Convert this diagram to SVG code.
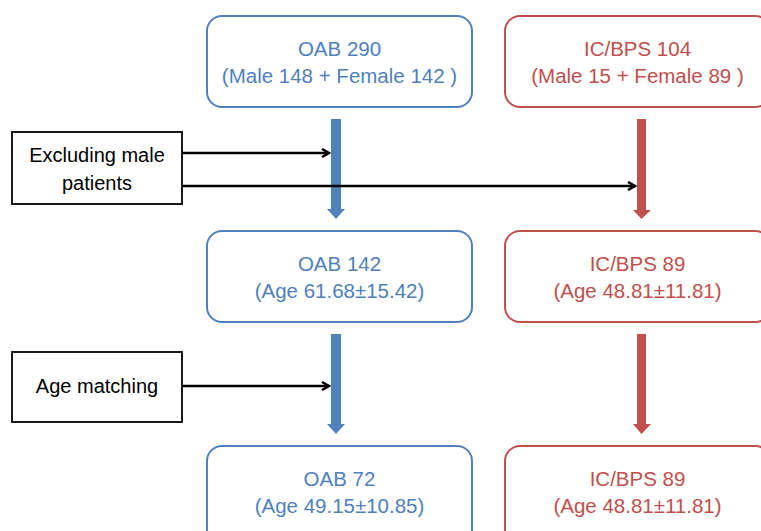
<svg xmlns="http://www.w3.org/2000/svg" width="761" height="531" viewBox="0 0 761 531">
<style>
.b{fill:#fff;stroke:#4F81BD;stroke-width:2}
.r{fill:#fff;stroke:#C0504D;stroke-width:2}
.k{fill:#fff;stroke:#000;stroke-width:1.8}
.tb{font-family:"Liberation Sans",Arial,sans-serif;font-size:20.5px;fill:#4F81BD;text-anchor:middle}
.tr{font-family:"Liberation Sans",Arial,sans-serif;font-size:20.5px;fill:#C0504D;text-anchor:middle}
.tk{font-family:"Liberation Sans",Arial,sans-serif;font-size:20px;fill:#000;text-anchor:middle}
.ln{stroke:#000;stroke-width:2.5;fill:none}
</style>
<defs>
<marker id="ah" markerWidth="10" markerHeight="10" refX="8" refY="5" orient="auto" markerUnits="userSpaceOnUse">
<path d="M1,1 L8,5 L1,9" fill="none" stroke="#000" stroke-width="2.5"/>
</marker>
</defs>
<rect width="761" height="531" fill="#fff"/>
<g id="connectors">
<path d="M331,119 H341 V209 H345 L336,219 L327,209 H331 Z" fill="#4F81BD"/>
<path d="M637,119 H646 V210 H651 L641.5,219 L633,210 H637 Z" fill="#C0504D"/>
<path d="M331,334 H341 V424 H345 L336,434 L327,424 H331 Z" fill="#4F81BD"/>
<path d="M637,334 H646 V424 H651 L641.5,434 L633,424 H637 Z" fill="#C0504D"/>
<line class="ln" x1="182" y1="153" x2="329" y2="153" marker-end="url(#ah)"/>
<line class="ln" x1="182" y1="186" x2="635" y2="186" marker-end="url(#ah)"/>
<line class="ln" x1="182" y1="386" x2="329" y2="386" marker-end="url(#ah)"/>
</g>
<g id="oab290">
<rect class="b" x="207" y="16" width="265" height="91" rx="15"/>
<text class="tb" x="339.5" y="56">OAB 290</text>
<text class="tb" x="339.5" y="83">(Male 148 + Female 142 )</text>
</g>
<g id="icbps104">
<rect class="r" x="505" y="16" width="265" height="91" rx="15"/>
<text class="tr" x="637.5" y="56">IC/BPS 104</text>
<text class="tr" x="637.5" y="83">(Male 15 + Female 89 )</text>
</g>
<g id="exclude">
<rect class="k" x="12" y="132" width="170" height="72"/>
<text class="tk" x="97" y="162">Excluding male</text>
<text class="tk" x="97" y="190">patients</text>
</g>
<g id="oab142">
<rect class="b" x="207" y="231" width="265" height="91" rx="15"/>
<text class="tb" x="339.5" y="271">OAB 142</text>
<text class="tb" x="339.5" y="298">(Age 61.68±15.42)</text>
</g>
<g id="icbps89a">
<rect class="r" x="505" y="231" width="265" height="91" rx="15"/>
<text class="tr" x="637.5" y="271">IC/BPS 89</text>
<text class="tr" x="637.5" y="298">(Age 48.81±11.81)</text>
</g>
<g id="agematch">
<rect class="k" x="12" y="352" width="170" height="70"/>
<text class="tk" x="97" y="393">Age matching</text>
</g>
<g id="oab72">
<rect class="b" x="207" y="446" width="265" height="100" rx="15"/>
<text class="tb" x="339.5" y="486">OAB 72</text>
<text class="tb" x="339.5" y="513">(Age 49.15±10.85)</text>
</g>
<g id="icbps89b">
<rect class="r" x="505" y="446" width="265" height="100" rx="15"/>
<text class="tr" x="637.5" y="486">IC/BPS 89</text>
<text class="tr" x="637.5" y="513">(Age 48.81±11.81)</text>
</g>
</svg>
